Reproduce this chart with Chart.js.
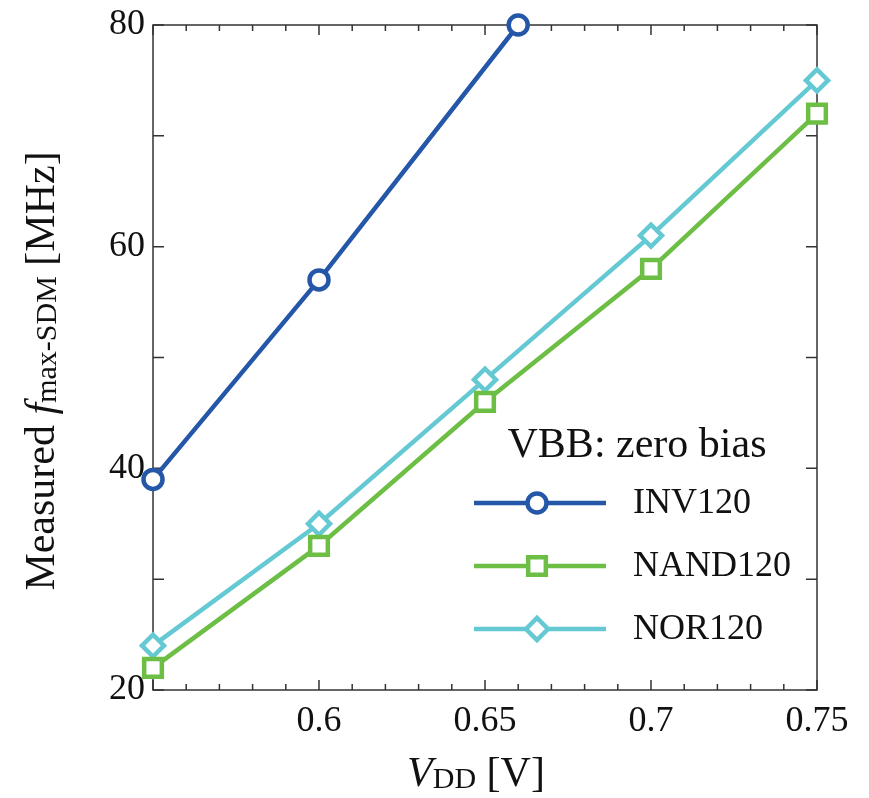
<!DOCTYPE html>
<html>
<head>
<meta charset="utf-8">
<script src="https://cdn.jsdelivr.net/npm/chart.js@4/dist/chart.umd.min.js"></script>
<style>
  html, body { margin: 0; padding: 0; background: #fff; }
  #wrap { width: 869px; height: 798px; position: relative; }
</style>
</head>
<body>
<div id="wrap"><canvas id="c" width="869" height="798"></canvas></div>
<script>
// ---- data ----
const seriesNames = ['INV120', 'NAND120', 'NOR120'];
const invVdd  = [0.55, 0.60, 0.66];
const invFmax = [39, 57, 80];
const nandVdd  = [0.55, 0.60, 0.65, 0.70, 0.75];
const nandFmax = [22, 33, 46, 58, 72];
const norVdd  = [0.55, 0.60, 0.65, 0.70, 0.75];
const norFmax = [24, 35, 48, 61, 75];
const xTickValues = [0.55, 0.60, 0.65, 0.70, 0.75];
const xTickLabels = ['', '0.6', '0.65', '0.7', '0.75'];
const xMinorTicks = [0.56, 0.57, 0.58, 0.59, 0.61, 0.62, 0.63, 0.64, 0.66, 0.67, 0.68, 0.69, 0.71, 0.72, 0.73, 0.74];
const yTickValues = [20, 40, 60, 80];
const yTickLabels = ['20', '40', '60', '80'];
const yMinorTicks = [30, 50, 70];
const legendTitle = 'VBB: zero bias';

const colors = ['#2457A8', '#6DBE45', '#64C9D3'];
const pointStyles = ['circle', 'rect', 'rectRot'];
const pointRadii = [9.5, 12.5, 11];

const SERIF = '"Liberation Serif", "Times New Roman", serif';
const toPts = (xs, ys) => xs.map((x, i) => ({ x: x, y: ys[i] }));

const datasets = [
  toPts(invVdd, invFmax),
  toPts(nandVdd, nandFmax),
  toPts(norVdd, norFmax)
].map((d, i) => ({
  label: seriesNames[i],
  data: d,
  borderColor: colors[i],
  backgroundColor: '#ffffff',
  borderWidth: 4.5,
  pointStyle: pointStyles[i],
  pointRadius: pointRadii[i],
  pointHoverRadius: pointRadii[i],
  pointBorderWidth: 4.5,
  pointBackgroundColor: '#ffffff',
  pointBorderColor: colors[i],
  tension: 0,
  clip: false
}));

function drawRich(ctx, segs, x, y, align) {
  let total = 0;
  segs.forEach(s => { ctx.font = s.font; total += ctx.measureText(s.t).width; });
  let cx = align === 'center' ? x - total / 2 : x;
  ctx.textAlign = 'left';
  ctx.textBaseline = 'alphabetic';
  segs.forEach(s => {
    ctx.font = s.font;
    ctx.fillText(s.t, cx, y + (s.dy || 0));
    cx += ctx.measureText(s.t).width;
  });
}

const framePlugin = {
  id: 'frame',
  beforeDatasetsDraw(chart) {
    const { ctx, chartArea: a, scales } = chart;
    const xs = scales.x, ys = scales.y;
    ctx.save();
    ctx.strokeStyle = '#333';
    ctx.lineWidth = 1.5;
    ctx.strokeRect(a.left, a.top, a.right - a.left, a.bottom - a.top);
    ctx.beginPath();
    const xt = (v, len) => {
      const p = xs.getPixelForValue(v);
      ctx.moveTo(p, a.bottom); ctx.lineTo(p, a.bottom - len);
      ctx.moveTo(p, a.top); ctx.lineTo(p, a.top + len);
    };
    xTickValues.forEach(v => xt(v, 10));
    xMinorTicks.forEach(v => xt(v, 6));
    const yt = (v, len) => {
      const p = ys.getPixelForValue(v);
      ctx.moveTo(a.left, p); ctx.lineTo(a.left + len, p);
      ctx.moveTo(a.right, p); ctx.lineTo(a.right - len, p);
    };
    yTickValues.forEach(v => yt(v, 11));
    yMinorTicks.forEach(v => yt(v, 11));
    ctx.stroke();
    ctx.restore();
  },
  afterDraw(chart) {
    const { ctx } = chart;
    ctx.save();
    ctx.fillStyle = '#111';
    // x axis title
    drawRich(ctx, [
      { t: 'V', font: 'italic 42px ' + SERIF },
      { t: 'DD', font: '30px ' + SERIF, dy: 2 },
      { t: ' [V]', font: '42px ' + SERIF }
    ], 476, 786, 'center');
    // y axis title
    ctx.translate(54, 371);
    ctx.rotate(-Math.PI / 2);
    drawRich(ctx, [
      { t: 'Measured ', font: '42px ' + SERIF },
      { t: 'f', font: 'italic 42px ' + SERIF },
      { t: 'max-SDM', font: '30px ' + SERIF, dy: 2 },
      { t: ' [MHz]', font: '42px ' + SERIF }
    ], 0, 0, 'center');
    ctx.restore();

    // legend
    ctx.save();
    ctx.fillStyle = '#111';
    ctx.font = '42px ' + SERIF;
    ctx.textAlign = 'center';
    ctx.textBaseline = 'middle';
    ctx.fillText(legendTitle, 637, 446);
    const rows = [503, 566, 629];
    chart.data.datasets.forEach((ds, i) => {
      const y = rows[i];
      ctx.strokeStyle = ds.borderColor;
      ctx.lineWidth = 4.5;
      ctx.beginPath();
      ctx.moveTo(474, y); ctx.lineTo(606, y);
      ctx.stroke();
      ctx.fillStyle = '#fff';
      ctx.strokeStyle = ds.borderColor;
      ctx.lineWidth = 4.5;
      Chart.helpers.drawPoint(ctx, { pointStyle: ds.pointStyle, radius: ds.pointRadius, borderWidth: 4.5, rotation: 0 }, 537, y);
      ctx.fillStyle = '#111';
      ctx.textAlign = 'left';
      ctx.font = '36px ' + SERIF;
      ctx.fillText(ds.label, 633, y + 1);
    });
    ctx.restore();
  }
};

new Chart(document.getElementById('c'), {
  type: 'line',
  data: { datasets: datasets },
  options: {
    responsive: false,
    animation: false,
    events: [],
    layout: { padding: { left: 0, top: 25, right: 52, bottom: 0 } },
    plugins: { legend: { display: false }, tooltip: { enabled: false }, title: { display: false } },
    scales: {
      x: {
        type: 'linear',
        min: 0.55, max: 0.75,
        grid: { display: false, drawTicks: false },
        border: { display: false },
        afterBuildTicks(scale) { scale.ticks = xTickValues.map(v => ({ value: v })); },
        afterFit(scale) { scale.height = 108; scale.paddingLeft = 0; scale.paddingRight = 0; },
        ticks: {
          autoSkip: false,
          maxRotation: 0,
          padding: 10,
          color: '#111',
          font: { family: SERIF, size: 36 },
          callback: (v, i) => xTickLabels[i]
        }
      },
      y: {
        type: 'linear',
        min: 20, max: 80,
        grid: { display: false, drawTicks: false },
        border: { display: false },
        afterBuildTicks(scale) { scale.ticks = yTickValues.map(v => ({ value: v })); },
        afterFit(scale) { scale.width = 153; scale.paddingTop = 0; scale.paddingBottom = 0; },
        ticks: {
          autoSkip: false,
          padding: 8,
          color: '#111',
          font: { family: SERIF, size: 36 },
          callback: (v, i) => yTickLabels[i]
        }
      }
    }
  },
  plugins: [framePlugin]
});
</script>
</body>
</html>
